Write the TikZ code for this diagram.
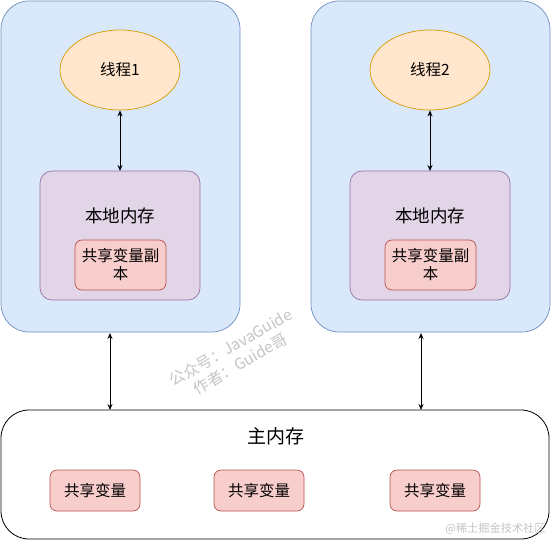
\documentclass[tikz,border=0pt]{standalone}
\usepackage{fontspec}
\setmainfont{Noto Sans CJK SC}
\usetikzlibrary{arrows.meta,shapes.geometric}
\definecolor{bluefill}{HTML}{DAE8FC}
\definecolor{bluedraw}{HTML}{6C8EBF}
\definecolor{orfill}{HTML}{FFE6CC}
\definecolor{ordraw}{HTML}{D79B00}
\definecolor{pufill}{HTML}{E1D5E7}
\definecolor{pudraw}{HTML}{9673A6}
\definecolor{redfill}{HTML}{F8CECC}
\definecolor{reddraw}{HTML}{B85450}
\definecolor{wm}{HTML}{C4C4C4}
\begin{document}
\begin{tikzpicture}[x=1pt,y=-1pt,
  threadbox/.style={draw=bluedraw,fill=bluefill,rounded corners=28pt,line width=0.7pt},
  thread/.style={ellipse,draw=ordraw,fill=orfill,line width=0.7pt,minimum width=120pt,minimum height=80pt,inner sep=0pt,font=\fontsize{15.5}{18}\selectfont},
  localmem/.style={draw=pudraw,fill=pufill,rounded corners=12pt,line width=0.7pt},
  varbox/.style={draw=reddraw,fill=redfill,rounded corners=7pt,line width=0.7pt,inner sep=0pt,align=center,font=\fontsize{15.5}{18}\selectfont},
  link/.style={{Stealth[length=6pt,width=5pt]}-{Stealth[length=6pt,width=5pt]},line width=0.8pt},
  wmtext/.style={text=wm,rotate=30,align=center,font=\fontsize{15.5}{19}\selectfont}
]
\useasboundingbox (0,0) rectangle (551,541);
% thread columns
\draw[threadbox] (1,1) rectangle (240,332);
\draw[threadbox] (311,1) rectangle (550,332);
\node[thread] (t1) at (120,70) {线程1};
\node[thread] (t2) at (430,70) {线程2};
\draw[localmem] (40,171) rectangle (200,300);
\draw[localmem] (350,171) rectangle (510,300);
\node[font=\fontsize{17.5}{20}\selectfont] (l1) at (120,216) {本地内存};
\node[font=\fontsize{17.5}{20}\selectfont] (l2) at (430,216) {本地内存};
\node[varbox,minimum width=91pt,minimum height=50pt] (c1) at (120.5,265) {共享变量副\\本};
\node[varbox,minimum width=91pt,minimum height=50pt] (c2) at (430.5,265) {共享变量副\\本};
\coordinate (lm1) at (120,171);
\coordinate (lm2) at (430,171);
\draw[link] (t1.south) -- (lm1);
\draw[link] (t2.south) -- (lm2);
% main memory
\draw[rounded corners=28pt,line width=0.8pt,fill=white] (1,410) rectangle (549,539);
\node[font=\fontsize{19}{21}\selectfont] (mm) at (275.5,436) {主内存};
\node[varbox,minimum width=90pt,minimum height=41pt] (v1) at (95,490.5) {共享变量};
\node[varbox,minimum width=90pt,minimum height=41pt] (v2) at (259,490.5) {共享变量};
\node[varbox,minimum width=90pt,minimum height=41pt] (v3) at (435,490.5) {共享变量};
\coordinate (a1) at (110,333);
\coordinate (b1) at (110,410);
\coordinate (a2) at (421,333);
\coordinate (b2) at (421,410);
\draw[link] (a1) -- (b1);
\draw[link] (a2) -- (b2);
% watermarks
\node[wmtext] (w1) at (235.5,355.5) {公众号：JavaGuide\\作者：Guide哥};
\node[text=wm,font=\fontsize{11.2}{13}\selectfont] (w3) at (495.5,529) {@稀土掘金技术社区};
\end{tikzpicture}
\end{document}
